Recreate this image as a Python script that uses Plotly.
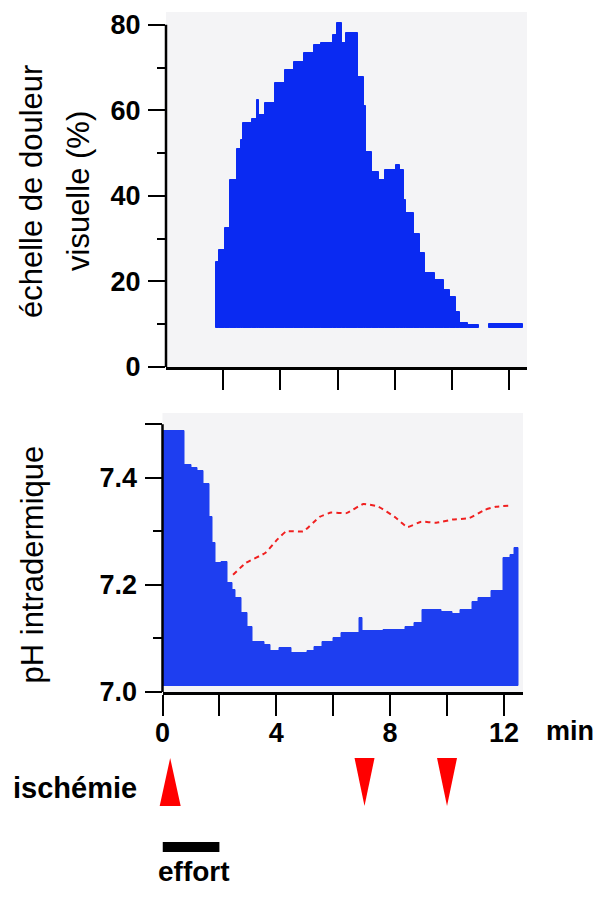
import plotly.graph_objects as go

# page is shown with the browser's default 8px body margin, so the figure is
# sized to fill exactly the 603x897 window and all positions below are page pixels
PAGE_OFF = 8
W, H = 603 - 2 * PAGE_OFF, 897 - 2 * PAGE_OFF

# ---------------- data ----------------
# Visual analogue pain scale (%) – step envelope, band drawn from baseline
vas_t = [1.74, 1.87, 2.07, 2.23, 2.47, 2.61, 2.68, 3.01, 3.19, 3.24, 3.48, 3.82,
         4.16, 4.49, 4.83, 5.17, 5.44, 5.84, 5.97, 6.15, 6.31, 6.71, 6.92, 6.98,
         7.19, 7.45, 7.66, 8.06, 8.19, 8.33, 8.40, 8.67, 8.87, 9.07, 9.41, 9.74,
         9.94, 10.15, 10.28, 10.55, 10.95, 11.29]
vas_v = [24.6, 27.4, 32.5, 43.7, 51.0, 53.0, 57.0, 58.0, 62.5, 59.0, 61.7, 66.4,
         69.5, 71.3, 73.4, 75.3, 75.8, 77.7, 80.5, 75.8, 78.0, 67.9, 61.0, 50.3,
         45.6, 43.7, 46.0, 47.3, 46.0, 39.0, 36.0, 31.0, 26.6, 22.0, 20.4, 18.0,
         16.4, 12.9, 10.2, 9.8, None, 10.0]
vas_end = 12.5
vas_base = 9.1

# Intradermal pH – step envelope
ph_t = [0.00, 0.78, 1.03, 1.24, 1.44, 1.64, 1.76, 1.88, 2.09, 2.29, 2.45, 2.57,
        2.78, 2.98, 3.18, 3.59, 3.79, 4.11, 4.52, 5.09, 5.33, 5.61, 6.02, 6.30,
        6.91, 7.03, 7.76, 8.53, 8.86, 9.14, 9.79, 10.19, 10.48, 10.89, 11.09,
        11.57, 11.98, 12.22, 12.38]
ph_v = [7.488, 7.424, 7.419, 7.413, 7.389, 7.327, 7.278, 7.241, 7.243, 7.204,
        7.191, 7.176, 7.148, 7.122, 7.094, 7.088, 7.077, 7.082, 7.073, 7.077,
        7.084, 7.094, 7.100, 7.110, 7.138, 7.114, 7.116, 7.122, 7.129, 7.153,
        7.150, 7.146, 7.153, 7.168, 7.176, 7.189, 7.250, 7.256, 7.269]
ph_end = 12.51
ph_base = 7.011

# Control pH (red dashed)
ctrl_t = [2.48, 2.93, 3.62, 4.02, 4.35, 4.95, 5.52, 5.93, 6.46, 7.06, 7.59,
          8.16, 8.61, 9.09, 9.62, 10.19, 10.79, 11.32, 11.72, 12.25]
ctrl_v = [7.219, 7.241, 7.260, 7.284, 7.300, 7.300, 7.327, 7.335, 7.334, 7.351,
          7.346, 7.327, 7.308, 7.318, 7.316, 7.322, 7.325, 7.340, 7.346, 7.348]

# events
ischemia_t = [0.27, 7.1, 10.0]
ischemia_dir = ["up", "down", "down"]
effort_t = [0.0, 2.0]

x_ticks = [0, 2, 4, 6, 8, 10, 12]
x_ticktext = ["0", "", "4", "", "8", "", "12"]
vas_ticks = [0, 20, 40, 60, 80]
vas_minor = [10, 30, 50, 70]
ph_ticks = [7.0, 7.2, 7.4, 7.5]
ph_ticktext = ["7.0", "7.2", "7.4", ""]
ph_minor = [7.1, 7.3]


# ---------------- helpers ----------------
def px_x(p):
    return (p - PAGE_OFF) / W


def px_y(p):
    return 1 - (p - PAGE_OFF) / H


def step_bars(ts, vs, t_end, base):
    bounds = ts[1:] + [t_end]
    xc, wd, hh = [], [], []
    for t0, t1, v in zip(ts, bounds, vs):
        if v is None:
            continue
        xc.append((t0 + t1) / 2)
        wd.append(t1 - t0)
        hh.append(v - base)
    return xc, wd, hh


TOP_BLUE = "#0a2af2"
BOT_BLUE = "#1e3ef0"
BG = "#f4f4f6"
FAM = "Liberation Sans, Arial, sans-serif"
TICKFONT = dict(family=FAM, size=27, color="black", weight="bold")
TITLEFONT = dict(family=FAM, size=31, color="black")
LABELFONT = dict(family=FAM, size=29, color="black", weight="bold")

X1_DOM, X1_RANGE = [px_x(166), px_x(527)], [0, 12.63]
X2_DOM, X2_RANGE = [px_x(162.5), px_x(523)], [0, 12.67]


def x2_paper(t):
    return X2_DOM[0] + (t - X2_RANGE[0]) / (X2_RANGE[1] - X2_RANGE[0]) * (X2_DOM[1] - X2_DOM[0])


fig = go.Figure()
bx, bw, bh = step_bars(vas_t, vas_v, vas_end, vas_base)
fig.add_trace(go.Bar(x=bx, y=bh, width=bw, base=vas_base,
                     marker=dict(color=TOP_BLUE, line=dict(width=1, color=TOP_BLUE)),
                     xaxis="x", yaxis="y", hoverinfo="skip"))
bx, bw, bh = step_bars(ph_t, ph_v, ph_end, ph_base)
fig.add_trace(go.Bar(x=bx, y=bh, width=bw, base=ph_base,
                     marker=dict(color=BOT_BLUE, line=dict(width=1, color=BOT_BLUE)),
                     xaxis="x2", yaxis="y2", hoverinfo="skip"))
fig.add_trace(go.Scatter(x=ctrl_t, y=ctrl_v, mode="lines",
                         line=dict(color="#f02020", width=2, dash="5px,4px",
                                   shape="spline", smoothing=0.4),
                         xaxis="x2", yaxis="y2", hoverinfo="skip"))

fig.update_layout(
    width=W, height=H,
    margin=dict(l=0, r=0, t=0, b=0, autoexpand=False),
    paper_bgcolor="white",
    plot_bgcolor=BG,
    showlegend=False,
    barmode="overlay",
    bargap=0,
    xaxis=dict(range=X1_RANGE, domain=X1_DOM, showgrid=False, automargin=False,
               zeroline=False, showline=True, linecolor="black", linewidth=2.5,
               ticks="outside", ticklen=20, tickwidth=2, tickcolor="black",
               tickvals=x_ticks[1:], showticklabels=False, anchor="y"),
    yaxis=dict(range=[0, 83], domain=[px_y(367), px_y(12)], showgrid=False,
               automargin=False,
               zeroline=False, showline=False, ticks="outside", ticklen=17,
               tickwidth=2, tickcolor="black", tickvals=vas_ticks,
               tickfont=TICKFONT, ticklabelstandoff=2, anchor="x",
               minor=dict(tickvals=vas_minor, ticks="outside", ticklen=8,
                          tickwidth=2, tickcolor="black")),
    xaxis2=dict(range=X2_RANGE, domain=X2_DOM, showgrid=False, automargin=False,
                zeroline=False, showline=True, linecolor="black", linewidth=2.5,
                ticks="outside", ticklen=21, tickwidth=2, tickcolor="black",
                tickvals=x_ticks, ticktext=x_ticktext, tickfont=TICKFONT,
                ticklabelstandoff=-6, anchor="y2"),
    yaxis2=dict(range=[7.0, 7.521], domain=[px_y(692), px_y(413)], showgrid=False,
                automargin=False,
                zeroline=False, showline=False, ticks="outside", ticklen=17,
                tickwidth=2, tickcolor="black", tickvals=ph_ticks,
                ticktext=ph_ticktext, tickfont=TICKFONT, ticklabelstandoff=2,
                anchor="x2",
                minor=dict(tickvals=ph_minor, ticks="outside", ticklen=9,
                           tickwidth=2, tickcolor="black")),
)

shapes = [
    dict(type="line", xref="x domain", x0=0, x1=0, yref="y", y0=0, y1=80,
         line=dict(color="black", width=2.5)),
    dict(type="line", xref="x2 domain", x0=0, x1=0, yref="y2", y0=7.0, y1=7.5,
         line=dict(color="black", width=2.5)),
]

tri_y = px_y(782)
for t, d in zip(ischemia_t, ischemia_dir):
    path = "M -10.5,-24 L 10.5,-24 L 0,24 Z" if d == "up" else "M -10,24 L 10,24 L 0,-24 Z"
    shapes.append(dict(type="path", xref="paper", yref="paper",
                       xsizemode="pixel", ysizemode="pixel",
                       xanchor=x2_paper(t), yanchor=tri_y, path=path,
                       fillcolor="#ff0000", line=dict(width=0)))

shapes.append(dict(type="rect", xref="x2", yref="paper",
                   x0=effort_t[0], x1=effort_t[1], y0=px_y(852), y1=px_y(842),
                   fillcolor="black", line=dict(width=0)))
fig.update_layout(shapes=shapes)

ann = [
    dict(text="échelle de douleur", x=px_x(31), y=px_y(192), textangle=-90,
         font=TITLEFONT),
    dict(text="visuelle (%)", x=px_x(79), y=px_y(191), textangle=-90,
         font=TITLEFONT),
    dict(text="pH intradermique", x=px_x(31.5), y=px_y(565), textangle=-90,
         font=TITLEFONT),
    dict(text="min", x=px_x(570), y=px_y(731), font=TICKFONT),
    dict(text="ischémie", x=px_x(75), y=px_y(788), font=LABELFONT),
]
for a in ann:
    a.update(xref="paper", yref="paper", xanchor="center", yanchor="middle",
             showarrow=False)
ann.append(dict(text="effort", x=px_x(194), y=0, xref="paper", yref="paper",
                xanchor="center", yanchor="bottom", showarrow=False,
                font=dict(LABELFONT, size=28)))
fig.update_layout(annotations=ann)

fig.write_html("out.html")
